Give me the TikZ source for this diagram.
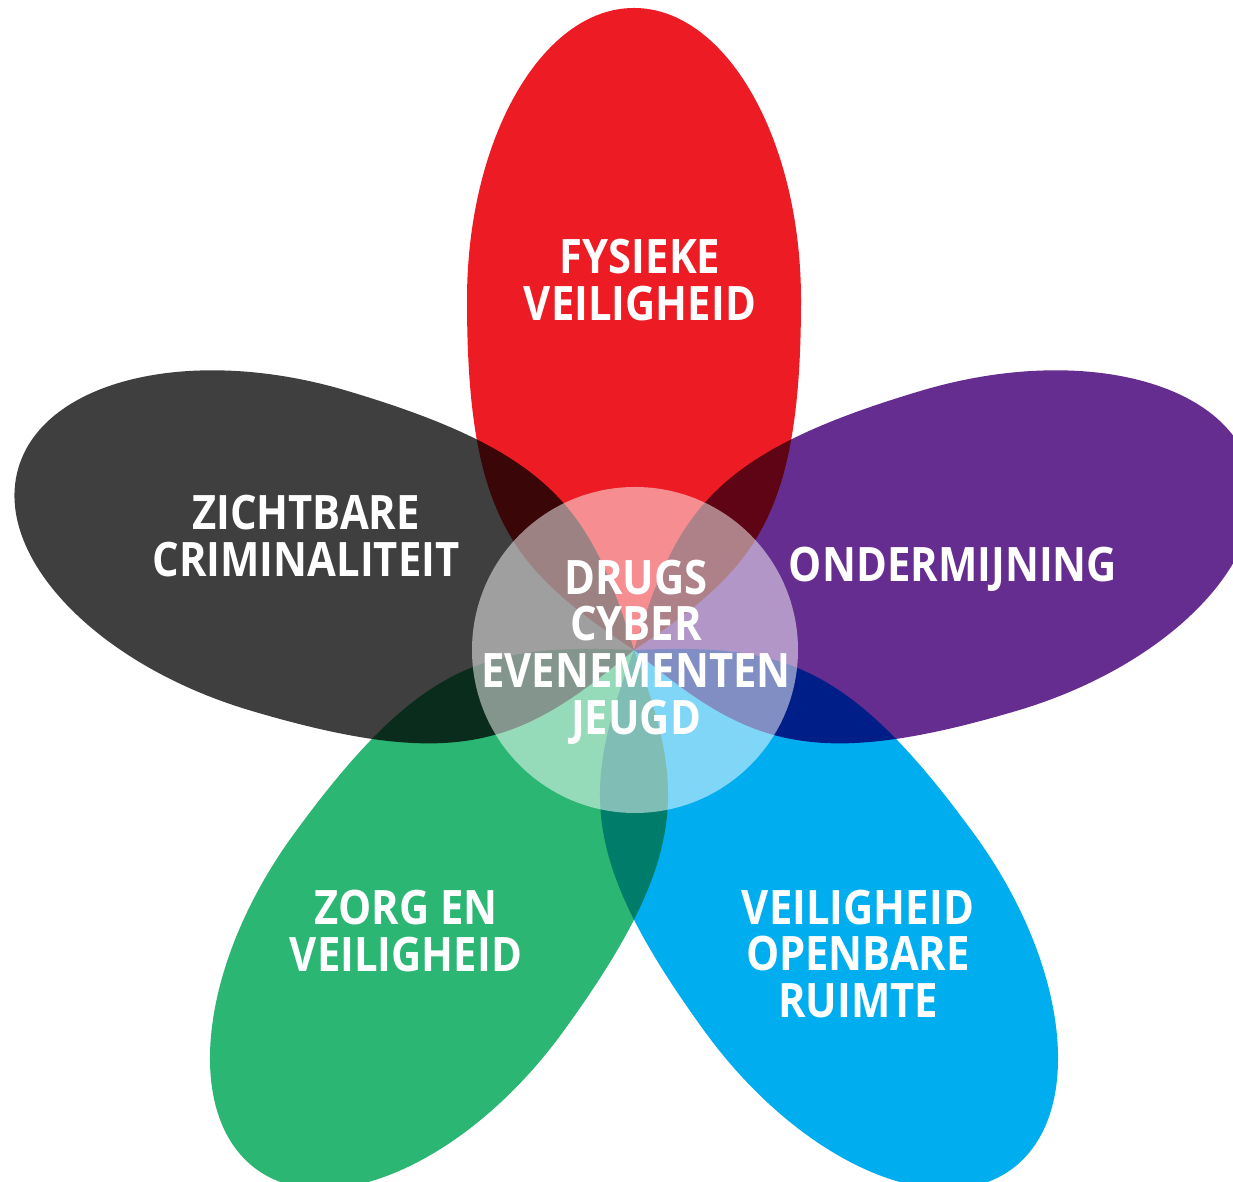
\documentclass[tikz,border=0pt]{standalone}
\usepackage{fontspec}
\setmainfont{Open Sans}[FakeStretch=0.88]
\definecolor{redc}{HTML}{ED1C24}
\definecolor{purplec}{HTML}{662D91}
\definecolor{bluec}{HTML}{00AEEF}
\definecolor{greenc}{HTML}{2BB673}
\definecolor{grayc}{HTML}{3F3F3F}
\tikzset{
  petal/.pic={
    \fill[#1] (0,0) .. controls (120,80) and (167,130) .. (167,350)
      .. controls (167,511) and (92,642) .. (0,642)
      .. controls (-92,642) and (-167,511) .. (-167,350)
      .. controls (-167,130) and (-120,80) .. (0,0) -- cycle;
  },
  lbl/.style={text=white, align=center, font=\bfseries\fontsize{13.5}{13.3}\selectfont, inner sep=0pt}
}
\begin{document}
\begin{tikzpicture}[x=0.01cm,y=0.01cm]
\useasboundingbox (0,0) rectangle (1233,1182);
\fill[white] (0,0) rectangle (1233,1182);
\clip (0,0) rectangle (1233,1182);
\coordinate (C) at (634,532);
\begin{scope}[blend mode=multiply]
  \pic[rotate=0] at (C) {petal=redc};
  \pic[rotate=-73.5] at (C) {petal=purplec};
  \pic[rotate=-144] at (C) {petal=bluec};
  \pic[rotate=144] at (C) {petal=greenc};
  \pic[rotate=73.5] at (C) {petal=grayc};
\end{scope}
\fill[white, fill opacity=0.5] (635,532) circle (163);
\node[lbl] (fys) at (640,902) {FYSIEKE\\VEILIGHEID};
\node[lbl] (zic) at (306,646) {ZICHTBARE\\CRIMINALITEIT};
\node[lbl] (ond) at (953,613) {ONDERMIJNING};
\node[lbl] (mid) at (636,530) {DRUGS\\CYBER\\EVENEMENTEN\\JEUGD};
\node[lbl] (zorg) at (406,251) {ZORG EN\\VEILIGHEID};
\node[lbl] (vor) at (858,228) {VEILIGHEID\\OPENBARE\\RUIMTE};
\end{tikzpicture}
\end{document}
